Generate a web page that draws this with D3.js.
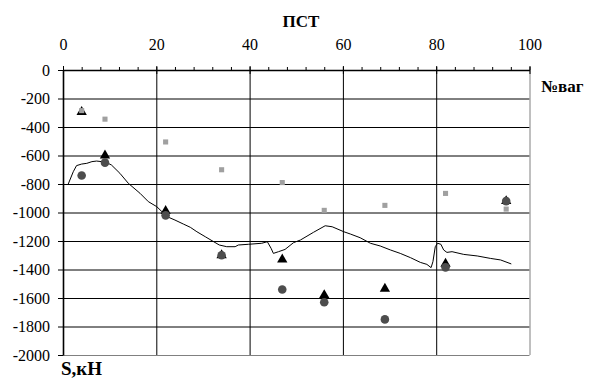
<!DOCTYPE html>
<html>
<head>
<meta charset="utf-8">
<script src="https://cdn.jsdelivr.net/npm/d3@7"></script>
<style>
  html, body { margin: 0; padding: 0; background: #fff; }
  svg { display: block; }
  text { font-family: "Liberation Serif", "Times New Roman", serif; fill: #000; }
</style>
</head>
<body>
<svg id="chart" width="590" height="378"></svg>
<script>
// Axis ticks
const xTicks = [0, 20, 40, 60, 80, 100];
const xMinorTicks = d3.range(0, 101, 4);
const yTicks = [0, -200, -400, -600, -800, -1000, -1200, -1400, -1600, -1800, -2000];

// Wagon numbers where the point series were measured
const vagon = [4, 9, 22, 34, 47, 56, 69, 82, 95];
// Point series, S in kN
const sSquare   = [-285, -345, -505, -700, -790, -985, -950, -866, -976];
const sTriangle = [-295, -600, -990, -1300, -1330, -1580, -1535, -1360, -920];
const sCircle   = [-740, -650, -1020, -1300, -1540, -1630, -1750, -1385, -920];

// Continuous force record along the train
const lineX = [1.1, 2.2, 2.9, 4.0, 5.1, 6.2, 7.2, 8.3, 9.4, 10.4, 12.2, 14.0, 16.5, 18.3, 20.1, 21.2,
  22.3, 24.0, 25.8, 27.3, 28.7, 30.5, 32.3, 33.5, 35.1, 36.9, 37.6, 39.8, 42.6, 43.8, 44.6, 45.1,
  46.2, 47.6, 49.4, 50.9, 53.7, 56.2, 57.7, 60.2, 61.6, 63.7, 65.9, 68.0, 70.2, 72.3, 74.5, 76.6,
  78.0, 78.9, 79.3, 79.8, 80.3, 81.0, 81.6, 82.3, 83.4, 85.9, 88.8, 91.6, 93.8, 96.1];
const lineS = [-802, -714, -671, -660, -655, -643, -639, -643, -650, -667, -725, -795, -865, -924, -959, -994,
  -1029, -1053, -1081, -1104, -1135, -1170, -1205, -1228, -1240, -1240, -1228, -1223, -1216, -1205, -1251, -1287,
  -1275, -1259, -1212, -1193, -1139, -1093, -1100, -1135, -1151, -1177, -1216, -1235, -1263, -1287, -1317, -1350,
  -1364, -1387, -1345, -1240, -1216, -1223, -1263, -1280, -1275, -1294, -1305, -1322, -1333, -1361];

const svg = d3.select("#chart");
const plotLeft = 63, plotRight = 529.5, plotTop = 70, plotBottom = 355;
const W = plotRight - plotLeft, H = plotBottom - plotTop;
const serif = "Liberation Serif, Times New Roman, serif";
const plainNumber = d => String(d);   // hyphen-minus, no thousands separator

const x = d3.scaleLinear().domain([0, 100]).range([plotLeft, plotRight]);
const y = d3.scaleLinear().domain([0, -2000]).range([plotTop, plotBottom]);

// Grid
const gridY = svg.append("g").attr("transform", `translate(${plotLeft},0)`)
  .call(d3.axisLeft(y).tickValues(yTicks.filter(d => d !== 0)).tickSize(-W).tickFormat(""));
gridY.select(".domain").remove();
gridY.selectAll(".tick line").attr("stroke", d => d === -2000 ? "#808080" : "#000");

const gridX = svg.append("g").attr("transform", `translate(0,${plotTop})`)
  .call(d3.axisBottom(x).tickValues(xTicks.filter(d => d !== 0)).tickSize(H).tickFormat(""));
gridX.select(".domain").remove();
gridX.selectAll(".tick line").attr("stroke", d => d === 100 ? "#808080" : "#000");

// Top axis: minor ticks above, major ticks crossing the line
const topMinor = svg.append("g").attr("transform", `translate(0,${plotTop})`)
  .call(d3.axisTop(x).tickValues(xMinorTicks).tickSize(3).tickFormat(""));
topMinor.select(".domain").remove();

const topBelow = svg.append("g").attr("transform", `translate(0,${plotTop})`)
  .call(d3.axisBottom(x).tickValues(xTicks).tickSize(4).tickFormat(""));
topBelow.select(".domain").remove();

const topAxis = svg.append("g").attr("transform", `translate(0,${plotTop})`)
  .call(d3.axisTop(x).tickValues(xTicks).tickFormat(plainNumber)
    .tickSizeInner(4).tickSizeOuter(0).tickPadding(16))
  .attr("font-family", serif).attr("font-size", 16);
topAxis.select(".domain").attr("stroke-width", 1.6);

// Left axis
const leftAxis = svg.append("g").attr("transform", `translate(${plotLeft},0)`)
  .call(d3.axisLeft(y).tickValues(yTicks).tickFormat(plainNumber)
    .tickSizeInner(5).tickSizeOuter(0).tickPadding(8))
  .attr("font-family", serif).attr("font-size", 16);
leftAxis.select(".domain").attr("stroke-width", 1.6);

// Force curve
const lineData = lineX.map((d, i) => [d, lineS[i]]);
svg.append("path")
  .datum(lineData)
  .attr("fill", "none")
  .attr("stroke", "#000")
  .attr("stroke-width", 1)
  .attr("d", d3.line().x(d => x(d[0])).y(d => y(d[1])));

// Triangles
svg.append("g").selectAll("path")
  .data(vagon.map((v, i) => [v, sTriangle[i]]))
  .join("path")
  .attr("transform", d => `translate(${x(d[0])},${y(d[1])})`)
  .attr("d", d3.symbol(d3.symbolTriangle, 46))
  .attr("fill", "#000");

// Circles
svg.append("g").selectAll("circle")
  .data(vagon.map((v, i) => [v, sCircle[i]]))
  .join("circle")
  .attr("cx", d => x(d[0]))
  .attr("cy", d => y(d[1]))
  .attr("r", 4.3)
  .attr("fill", "#4d4d4d");

// Squares
svg.append("g").selectAll("path")
  .data(vagon.map((v, i) => [v, sSquare[i]]))
  .join("path")
  .attr("transform", d => `translate(${x(d[0])},${y(d[1])})`)
  .attr("d", d3.symbol(d3.symbolSquare, 26))
  .attr("fill", "#a0a0a0");

// Axis titles
svg.append("text").attr("x", 301).attr("y", 27).attr("text-anchor", "middle")
  .attr("font-size", 17).attr("font-weight", "bold").text("ПСТ");
svg.append("text").attr("x", 541).attr("y", 92)
  .attr("font-size", 17).attr("font-weight", "bold").text("№ваг");
svg.append("text").attr("x", 61).attr("y", 375)
  .attr("font-size", 19).attr("font-weight", "bold").text("S,кН");
</script>
</body>
</html>
